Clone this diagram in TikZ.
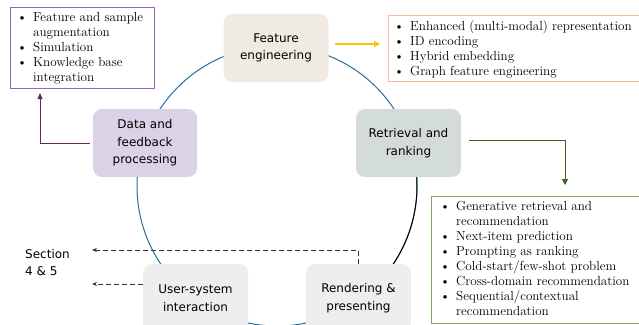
\documentclass[tikz,border=0pt]{standalone}
\usepackage{fontspec}
\newfontfamily\comicf{DejaVu Sans}
\usetikzlibrary{arrows.meta}
\definecolor{arcblue}{RGB}{42,110,150}
\definecolor{featfill}{RGB}{239,235,226}
\definecolor{retrfill}{RGB}{212,220,215}
\definecolor{datafill}{RGB}{220,210,229}
\definecolor{greyfill}{RGB}{238,238,238}
\definecolor{yarrowc}{RGB}{255,192,0}
\definecolor{garrowc}{RGB}{55,100,30}
\definecolor{parrowc}{RGB}{100,40,90}
\definecolor{purpleborder}{RGB}{150,100,190}
\definecolor{orangeborder}{RGB}{245,185,160}
\definecolor{greenborder}{RGB}{125,170,95}
\newcommand{\bul}{\raisebox{0.3pt}{\textbullet}}
\begin{document}
\begin{tikzpicture}[x=1pt,y=-1pt,
  stage/.style={rounded corners=9pt, minimum width=105pt, minimum height=68pt,
    align=center, font=\comicf\fontsize{12}{17.5}\selectfont, inner sep=0pt},
  listbox/.style={line width=1.1pt},
  listtext/.style={anchor=north west, inner sep=0pt, align=left,
    font=\fontsize{13.1}{15}\selectfont},
  dasharrow/.style={dashed, dash pattern=on 5pt off 3pt, line width=0.8pt, black!80,
    -{Stealth[length=5pt,width=4pt]}}
]
\useasboundingbox (0,0) rectangle (639,324);

% cycle
\draw[arcblue, line width=1pt] (277,186) circle[radius=140pt];
\draw[black, line width=1pt] (277,186) ++(15:140pt) arc[start angle=15, end angle=-55, radius=140pt];

% stages
\node[stage, fill=featfill] (fe) at (276,48) {Feature\\engineering};
\node[stage, fill=retrfill] (rr) at (408.5,143) {Retrieval and\\ranking};
\node[stage, fill=datafill, minimum width=104pt] (df) at (145,143) {Data and\\feedback\\processing};
\node[stage, fill=greyfill] (ui) at (195.5,298) {User-system\\interaction};
\node[stage, fill=greyfill] (rp) at (358.5,298) {Rendering \&\\presenting};

% list boxes
\node[draw=purpleborder, listbox, minimum width=144pt, minimum height=81pt, anchor=north west, inner sep=0pt] (pb) at (10,7) {};
\node[listtext] (pbt) at (17,11) {\begin{tabular}{@{}l@{\hspace{6pt}}l@{}}
\bul & Feature and sample\\ & augmentation\\ \bul & Simulation\\ \bul & Knowledge base\\ & integration\end{tabular}};

\node[draw=orangeborder, listbox, minimum width=262pt, minimum height=66pt, anchor=north west, inner sep=0pt] (ob) at (388,15) {};
\node[listtext] (obt) at (394,20) {\begin{tabular}{@{}l@{\hspace{6pt}}l@{}}
\bul & Enhanced (multi-modal) representation\\ \bul & ID encoding\\ \bul & Hybrid embedding\\ \bul & Graph feature engineering\end{tabular}};

\node[draw=greenborder, listbox, minimum width=220pt, minimum height=127pt, anchor=north west, inner sep=0pt] (gb) at (431,196) {};
\node[listtext] (gbt) at (440,200) {\begin{tabular}{@{}l@{\hspace{6pt}}l@{}}
\bul & Generative retrieval and\\ & recommendation\\ \bul & Next-item prediction\\ \bul & Prompting as ranking\\ \bul & Cold-start/few-shot problem\\ \bul & Cross-domain recommendation\\ \bul & Sequential/contextual\\ & recommendation\end{tabular}};

% section label
\node[anchor=north west, inner sep=0pt, align=left, font=\comicf\fontsize{12}{17}\selectfont] (sec) at (25,249) {Section\\4 \& 5};

% coordinates
\coordinate (gin) at (565,185);
\coordinate (pin) at (40,93);
\coordinate (s1) at (92,250);
\coordinate (s2) at (92,284);

% arrows
\draw[yarrowc, line width=1.1pt, shorten <=6pt, shorten >=8pt, -{Triangle[length=6pt,width=6pt]}]
  ([yshift=4pt]fe.east) -- ([yshift=4pt]fe.east -| ob.west);
\draw[garrowc, line width=0.9pt, shorten <=8pt, -{Triangle[length=6pt,width=6pt]}]
  ([yshift=3pt]rr.east) -| (gin);
\draw[parrowc, line width=0.9pt, shorten <=3pt, -{Triangle[length=6pt,width=5pt]}]
  (df.west) -| (pin);
\draw[dasharrow] (rp.north) |- (s1);
\draw[dasharrow] (s2 -| ui.west) -- (s2);
\end{tikzpicture}
\end{document}
